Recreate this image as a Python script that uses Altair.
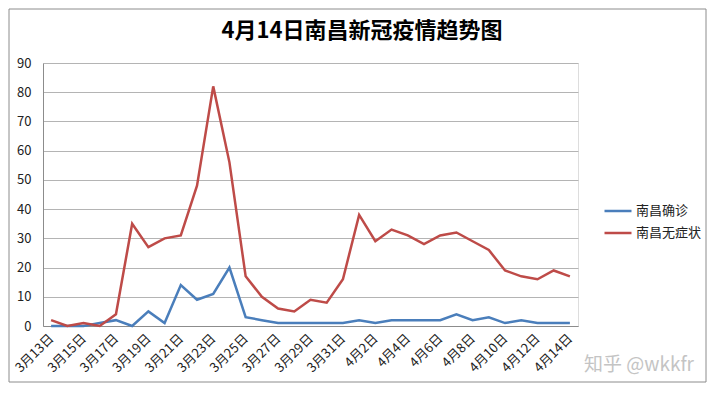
import altair as alt
import pandas as pd

dates = ["3月13日", "3月14日", "3月15日", "3月16日", "3月17日", "3月18日", "3月19日",
         "3月20日", "3月21日", "3月22日", "3月23日", "3月24日", "3月25日", "3月26日",
         "3月27日", "3月28日", "3月29日", "3月30日", "3月31日", "4月1日", "4月2日",
         "4月3日", "4月4日", "4月5日", "4月6日", "4月7日", "4月8日", "4月9日",
         "4月10日", "4月11日", "4月12日", "4月13日", "4月14日"]
confirmed = [0, 0, 0, 1, 2, 0, 5, 1, 14, 9, 11, 20, 3, 2, 1, 1, 1, 1, 1,
             2, 1, 2, 2, 2, 2, 4, 2, 3, 1, 2, 1, 1, 1]
asymptomatic = [2, 0, 1, 0, 4, 35, 27, 30, 31, 48, 82, 56, 17, 10, 6, 5, 9, 8, 16,
                38, 29, 33, 31, 28, 31, 32, 29, 26, 19, 17, 16, 19, 17]
series = ["南昌确诊", "南昌无症状"]
colors = ["#4a7ebb", "#be4b48"]
y_ticks = [0, 10, 20, 30, 40, 50, 60, 70, 80, 90]
title_text = "4月14日南昌新冠疫情趋势图"
watermark = "知乎 @wkkfr"

rows = []
for d, c, a in zip(dates, confirmed, asymptomatic):
    rows.append({"date": d, "series": series[0], "value": c})
    rows.append({"date": d, "series": series[1], "value": a})
df = pd.DataFrame(rows)

FONT = "Noto Sans CJK SC"
W, H = 535, 263

lines = alt.Chart(df).mark_line(strokeWidth=2.5).encode(
    x=alt.X("date:N", sort=dates, title=None,
            scale=alt.Scale(type="point", padding=0.5),
            axis=alt.Axis(values=dates[::2], labelAngle=-45, labelAlign="right",
                          labelBaseline="middle", ticks=False, labelPadding=10,
                          labelFont=FONT, labelFontSize=13, labelColor="#222222",
                          domainColor="#8c8c8c", grid=False)),
    y=alt.Y("value:Q", title=None, scale=alt.Scale(domain=[0, 90], nice=False),
            axis=alt.Axis(values=y_ticks, grid=True, gridColor="#b4b4b4",
                          ticks=False, labelPadding=12, labelFont=FONT,
                          labelFontSize=13, labelColor="#222222",
                          domainColor="#8c8c8c")),
    color=alt.Color("series:N", sort=series,
                    scale=alt.Scale(domain=series, range=colors),
                    legend=alt.Legend(title=None, orient="none", legendX=560, legendY=133,
                                      symbolType="stroke", symbolSize=729,
                                      symbolStrokeWidth=2.5, labelFont=FONT,
                                      labelFontSize=13, labelColor="#222222",
                                      rowPadding=-3, labelOffset=3)),
)

one = pd.DataFrame({"t": [title_text], "w": [watermark]})

title = alt.Chart(one).mark_text(fontSize=22, fontWeight="bold", font=FONT,
                                 color="#000000", align="center", baseline="middle").encode(
    x=alt.value(319), y=alt.value(-32), text="t:N")

wm = alt.Chart(one).mark_text(fontSize=19, font=FONT, color="#c4c4c4",
                              align="left", baseline="middle").encode(
    x=alt.value(541), y=alt.value(302), text="w:N")

frame = alt.Chart(one).mark_rect(fill="transparent", stroke="#8c8c8c", strokeWidth=1).encode(
    x=alt.value(-34), x2=alt.value(W + 128), y=alt.value(-54), y2=alt.value(H + 56))

chart = alt.layer(frame, lines, title, wm).properties(
    width=W, height=H,
    autosize=alt.AutoSizeParams(type="none"),
    padding={"left": 35, "top": 55, "right": 130, "bottom": 58},
).configure_view(strokeWidth=0).configure(background="white")

chart.save("out.html", embed_options={"renderer": "svg", "actions": False})
